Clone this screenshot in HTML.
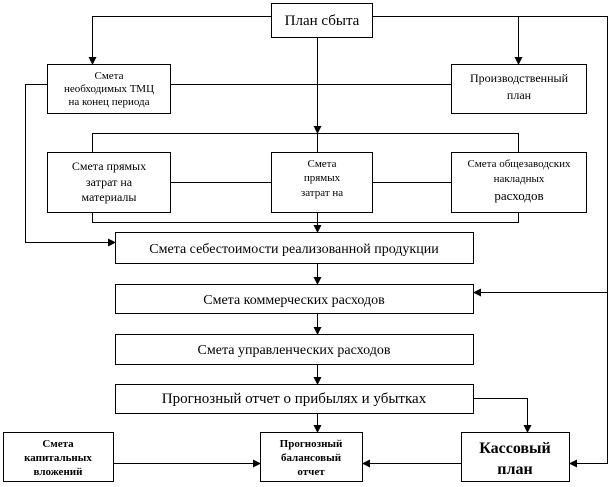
<!DOCTYPE html>
<html><head><meta charset="utf-8"><style>
body{margin:0;background:#fff;}
svg{display:block;font-family:"Liberation Serif","DejaVu Serif",serif;}
</style></head><body>
<svg width="608" height="487" viewBox="0 0 608 487" xmlns="http://www.w3.org/2000/svg">
<defs><marker id="a" markerWidth="8" markerHeight="8" refX="7" refY="4" orient="auto" markerUnits="userSpaceOnUse"><path d="M0,0 L8,4 L0,8 z" fill="#000"/></marker></defs>
<g fill="none" stroke="#000" stroke-width="1">
<rect x="271.5" y="3.5" width="101" height="34"/>
<rect x="47.5" y="64.5" width="123" height="49"/>
<rect x="451.5" y="64.5" width="135" height="49"/>
<rect x="47.5" y="152.5" width="123" height="60"/>
<rect x="271.5" y="152.5" width="101" height="60"/>
<rect x="451.5" y="152.5" width="135" height="60"/>
<rect x="115.5" y="232.5" width="358" height="31"/>
<rect x="115.5" y="284.5" width="358" height="29"/>
<rect x="115.5" y="334.5" width="358" height="30"/>
<rect x="115.5" y="384.5" width="358" height="29"/>
<rect x="3.5" y="432.5" width="110" height="49"/>
<rect x="260.5" y="432.5" width="102" height="49"/>
<rect x="461.5" y="432.5" width="108" height="49"/>
<polyline points="271.5,16.5 92.5,16.5 92.5,64" marker-end="url(#a)"/>
<polyline points="372.5,16.5 607.5,16.5 607.5,463.5 570,463.5" marker-end="url(#a)"/>
<polyline points="518.5,16.5 518.5,64" marker-end="url(#a)"/>
<line x1="170.5" y1="84.5" x2="451.5" y2="84.5"/>
<polyline points="47.5,84.5 25.5,84.5 25.5,242.5 115,242.5" marker-end="url(#a)"/>
<line x1="317.5" y1="37.5" x2="317.5" y2="133" marker-end="url(#a)"/>
<polyline points="92.5,152.5 92.5,133.5 518.5,133.5 518.5,152.5"/>
<line x1="317.5" y1="133.5" x2="317.5" y2="152.5"/>
<line x1="170.5" y1="182.5" x2="271.5" y2="182.5"/>
<line x1="372.5" y1="182.5" x2="451.5" y2="182.5"/>
<polyline points="92.5,212.5 92.5,222.5 518.5,222.5 518.5,212.5"/>
<line x1="317.5" y1="212.5" x2="317.5" y2="232" marker-end="url(#a)"/>
<line x1="317.5" y1="263.5" x2="317.5" y2="284" marker-end="url(#a)"/>
<line x1="607.5" y1="292.5" x2="474" y2="292.5" marker-end="url(#a)"/>
<line x1="317.5" y1="313.5" x2="317.5" y2="334" marker-end="url(#a)"/>
<line x1="317.5" y1="364.5" x2="317.5" y2="384" marker-end="url(#a)"/>
<line x1="317.5" y1="413.5" x2="317.5" y2="432" marker-end="url(#a)"/>
<polyline points="473.5,398.5 527.5,398.5 527.5,432" marker-end="url(#a)"/>
<line x1="461.5" y1="463.5" x2="363" y2="463.5" marker-end="url(#a)"/>
<line x1="113.5" y1="463.5" x2="260" y2="463.5" marker-end="url(#a)"/>
</g>
<g fill="#000" text-anchor="middle">
<text x="322" y="25" font-size="15">План сбыта</text>
<text x="109" y="79" font-size="11">Смета</text>
<text x="109" y="92" font-size="11">необходимых ТМЦ</text>
<text x="109" y="105" font-size="11">на конец периода</text>
<text x="519" y="82" font-size="12">Производственный</text>
<text x="519" y="99" font-size="12">план</text>
<text x="109" y="170" font-size="12">Смета прямых</text>
<text x="109" y="186" font-size="12">затрат на</text>
<text x="109" y="201" font-size="12">материалы</text>
<text x="322" y="167" font-size="11">Смета</text>
<text x="322" y="181" font-size="11">прямых</text>
<text x="322" y="196" font-size="11">затрат на</text>
<text x="519" y="167" font-size="11">Смета общезаводских</text>
<text x="519" y="182" font-size="11">накладных</text>
<text x="519" y="200" font-size="13">расходов</text>
<text x="294" y="253" font-size="14">Смета себестоимости реализованной продукции</text>
<text x="294" y="304" font-size="14">Смета коммерческих расходов</text>
<text x="294" y="354" font-size="14">Смета управленческих расходов</text>
<text x="294" y="403" font-size="15">Прогнозный отчет о прибылях и убытках</text>
<g font-weight="bold" font-size="11">
<text x="58" y="447">Смета</text>
<text x="58" y="461">капитальных</text>
<text x="58" y="475">вложений</text>
<text x="311" y="447">Прогнозный</text>
<text x="311" y="461">балансовый</text>
<text x="311" y="475">отчет</text>
</g>
<text x="515" y="453" font-size="16" font-weight="bold">Кассовый</text>
<text x="515" y="474" font-size="16" font-weight="bold">план</text>
</g>
</svg>
</body></html>
